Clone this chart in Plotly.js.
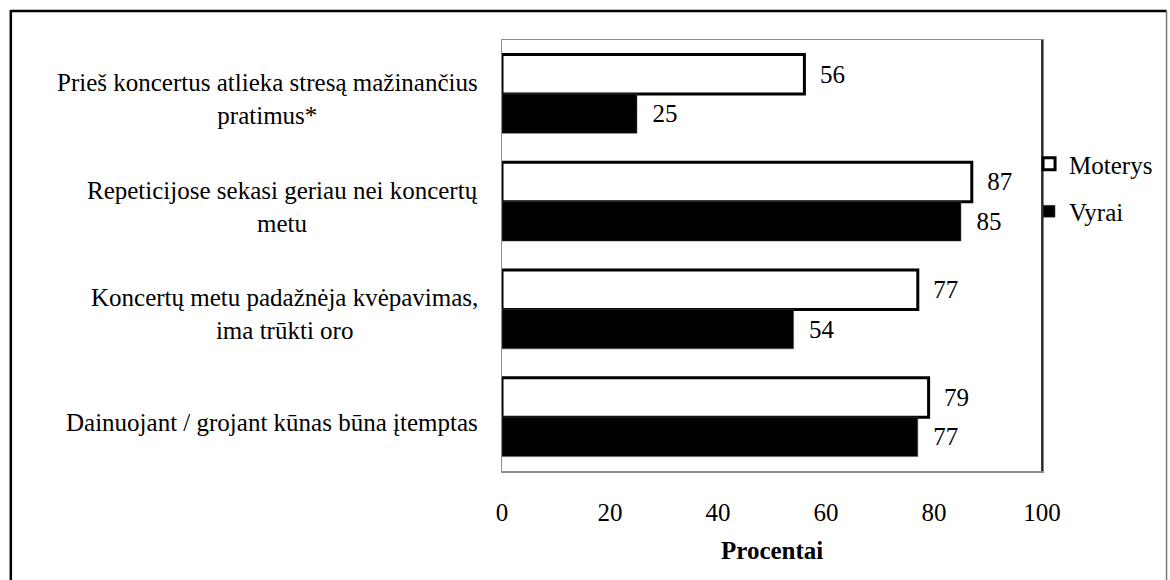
<!DOCTYPE html>
<html>
<head>
<meta charset="utf-8">
<script src="https://cdn.plot.ly/plotly-3.0.1.min.js"></script>
<style>
  html, body { margin: 0; padding: 0; background: #fff; }
  #chart { width: 1170px; height: 580px; }
</style>
</head>
<body>
<div id="chart"></div>
<script>
// Survey statements (one bar pair per statement)
const categories = [
  "Prieš koncertus atlieka stresą mažinančius<br>pratimus*",
  "Repeticijose sekasi geriau nei koncertų<br>metu",
  "Koncertų metu padažnėja kvėpavimas,<br>ima trūkti oro",
  "Dainuojant / grojant kūnas būna įtemptas"
];
const seriesNames = ["Moterys", "Vyrai"];
const womenValues = [56, 87, 77, 79];
const menValues = [25, 85, 54, 77];
const xTicks = [0, 20, 40, 60, 80, 100];

const serif = "Liberation Serif";
const fs = 25;
const nb = "\u00a0\u00a0";

const W = 1170, H = 580;
const margin = { l: 502, r: 126, t: 40, b: 109 };
const pw = W - margin.l - margin.r;
const ph = H - margin.t - margin.b;
const px = v => (v - margin.l) / pw;          // page x -> paper x
const py = v => 1 - (v - margin.t) / ph;      // page y -> paper y

const traces = [
  {
    type: "bar", orientation: "h", name: seriesNames[0],
    y: categories, x: womenValues,
    marker: { color: "#ffffff", line: { color: "#000000", width: 3 } },
    text: womenValues.map(v => nb + v), textposition: "outside",
    textfont: { family: serif, size: fs, color: "#000" },
    constraintext: "none", cliponaxis: false,
    legendgroup: "a", hoverinfo: "x+name"
  },
  {
    type: "bar", orientation: "h", name: seriesNames[1],
    y: categories, x: menValues,
    marker: { color: "#000000", line: { color: "#555555", width: 0.5 } },
    text: menValues.map(v => nb + v), textposition: "outside",
    textfont: { family: serif, size: fs, color: "#000" },
    constraintext: "none", cliponaxis: false,
    legendgroup: "b", hoverinfo: "x+name"
  }
];

// Category labels, centred line by line to the left of the plot
const labelAnnotations = categories.map(c => ({
  xref: "paper", yref: "y", x: px(480), y: c, yshift: -5,
  xanchor: "right", yanchor: "middle", align: "center",
  text: c, showarrow: false,
  font: { family: serif, size: fs, color: "#000" }
}));

const layout = {
  width: W, height: H,
  margin: margin,
  paper_bgcolor: "#fff", plot_bgcolor: "#fff",
  font: { family: serif, size: fs, color: "#000" },
  barmode: "group", bargap: 0.267, bargroupgap: 0,
  showlegend: true,
  legend: {
    x: px(1031), y: py(141), xanchor: "left", yanchor: "top",
    traceorder: "grouped", tracegroupgap: 12,
    font: { family: serif, size: fs, color: "#000" },
    bgcolor: "rgba(0,0,0,0)", itemwidth: 30
  },
  xaxis: {
    range: [0, 100], tickvals: xTicks, ticktext: xTicks.map(String),
    showgrid: false, zeroline: false, ticks: "",
    showline: true, linecolor: "#8c8c8c", linewidth: 1.5, mirror: true,
    ticklabelstandoff: 18,
    tickfont: { family: serif, size: fs, color: "#000" },
    fixedrange: true
  },
  yaxis: {
    type: "category", autorange: "reversed",
    showticklabels: false, showgrid: false, zeroline: false, ticks: "",
    showline: true, linecolor: "#8c8c8c", linewidth: 1.5, mirror: true,
    fixedrange: true
  },
  annotations: labelAnnotations.concat([
    {
      xref: "paper", yref: "paper", x: px(773), y: py(550),
      xanchor: "center", yanchor: "middle", showarrow: false,
      text: "<b>Procentai</b>",
      font: { family: serif, size: fs, color: "#000" }
    }
  ]),
  shapes: [
    // right edge of the plot frame
    { type: "line", xref: "paper", yref: "paper", x0: 1, x1: 1, y0: 0, y1: 1,
      line: { color: "#000", width: 1.5 } },
    // outer page frame
    { type: "line", xref: "paper", yref: "paper", x0: px(9), x1: px(9), y0: py(10), y1: py(580),
      line: { color: "#000", width: 2.5 } },
    { type: "line", xref: "paper", yref: "paper", x0: px(9), x1: px(1169), y0: py(11), y1: py(11),
      line: { color: "#000", width: 2.5 } },
    { type: "line", xref: "paper", yref: "paper", x0: px(1169), x1: px(1169), y0: py(11), y1: py(580),
      line: { color: "#777", width: 1.5 } }
  ]
};

Plotly.newPlot("chart", traces, layout, { displayModeBar: false, staticPlot: true });
</script>
</body>
</html>
